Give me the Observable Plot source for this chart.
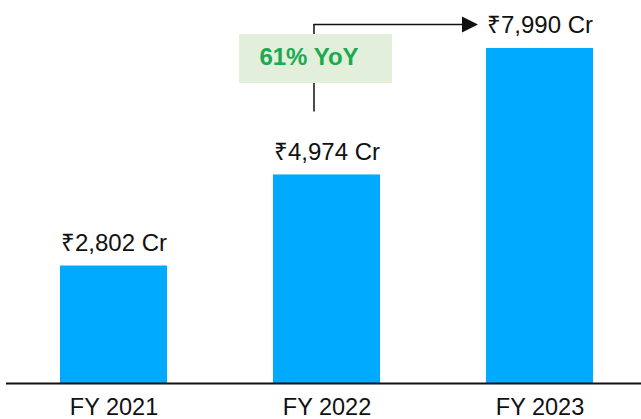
<!DOCTYPE html>
<html><head><meta charset="utf-8">
<script src="https://cdn.jsdelivr.net/npm/d3@7"></script>
<script src="https://cdn.jsdelivr.net/npm/@observablehq/plot@0.6"></script>
<style>body{margin:0;background:#fff} svg{display:block}</style>
</head><body><div id="chart"></div>
<script>
const years = ["FY 2021", "FY 2022", "FY 2023"];
const revenue = [2802, 4974, 7990];
const valueLabels = ["₹2,802 Cr", "₹4,974 Cr", "₹7,990 Cr"];
const growthLabel = "61% YoY";
const growthFrom = "FY 2022";
const growthTo = "FY 2023";

const data = years.map((year, i) => ({year, revenue: revenue[i], label: valueLabels[i]}));
const fromValue = revenue[years.indexOf(growthFrom)];
const toValue = revenue[years.indexOf(growthTo)];

const triangleRight = {
  draw(context, size) {
    const k = Math.sqrt(size / Math.PI);
    context.moveTo(-k, -k);
    context.lineTo(k, 0);
    context.lineTo(-k, k);
    context.closePath();
  }
};

const chart = Plot.plot({
  width: 641,
  height: 419,
  marginTop: 0,
  marginBottom: 36,
  marginLeft: 6,
  marginRight: 0,
  style: {fontFamily: "'Liberation Sans', Arial, Helvetica, sans-serif", fontSize: "23.5px", color: "#111", background: "#fff"},
  x: {domain: years, paddingInner: 0.5, paddingOuter: 0.236, align: 0.525, tickSize: 0, tickPadding: 15, label: null},
  y: {domain: [0, 9134], axis: null},
  marks: [
    Plot.barY(data, {x: "year", y: "revenue", fill: "#00aaff"}),
    Plot.ruleY([0], {stroke: "#111", strokeWidth: 2}),
    Plot.text(data, {x: "year", y: "revenue", text: "label", lineAnchor: "bottom", dy: -15, fill: "#111", fontSize: 24}),
    // connector: vertical part
    Plot.ruleX([{x: growthFrom, y1: toValue, y2: fromValue}], {x: "x", y1: "y1", y2: "y2", dx: -13, insetTop: -24, insetBottom: 63, stroke: "#111", strokeWidth: 1.5}),
    // growth box
    Plot.barY([{x: growthFrom, y1: toValue, y2: toValue}], {x: "x", y1: "y1", y2: "y2", insetTop: -14, insetBottom: -35, insetLeft: -34, insetRight: -12, fill: "#e2efda"}),
    Plot.text([{x: growthFrom, y: toValue, t: growthLabel}], {x: "x", y: "y", text: "t", lineAnchor: "bottom", dx: -18, dy: 17, fill: "#1aaa50", fontWeight: "bold", fontSize: 24}),
    // connector: horizontal part
    Plot.ruleY([{x1: growthFrom, x2: growthTo, y: toValue}], {x1: "x1", x2: "x2", y: "y", dy: -24, insetLeft: 40.5, insetRight: 125, stroke: "#111", strokeWidth: 1.5}),
    Plot.dot([{x: growthTo, y: toValue}], {x: "x", y: "y", dx: -70, dy: -24, r: 8, symbol: triangleRight, fill: "#111", stroke: "none"})
  ]
});
document.getElementById("chart").appendChild(chart);
</script>
</body></html>
